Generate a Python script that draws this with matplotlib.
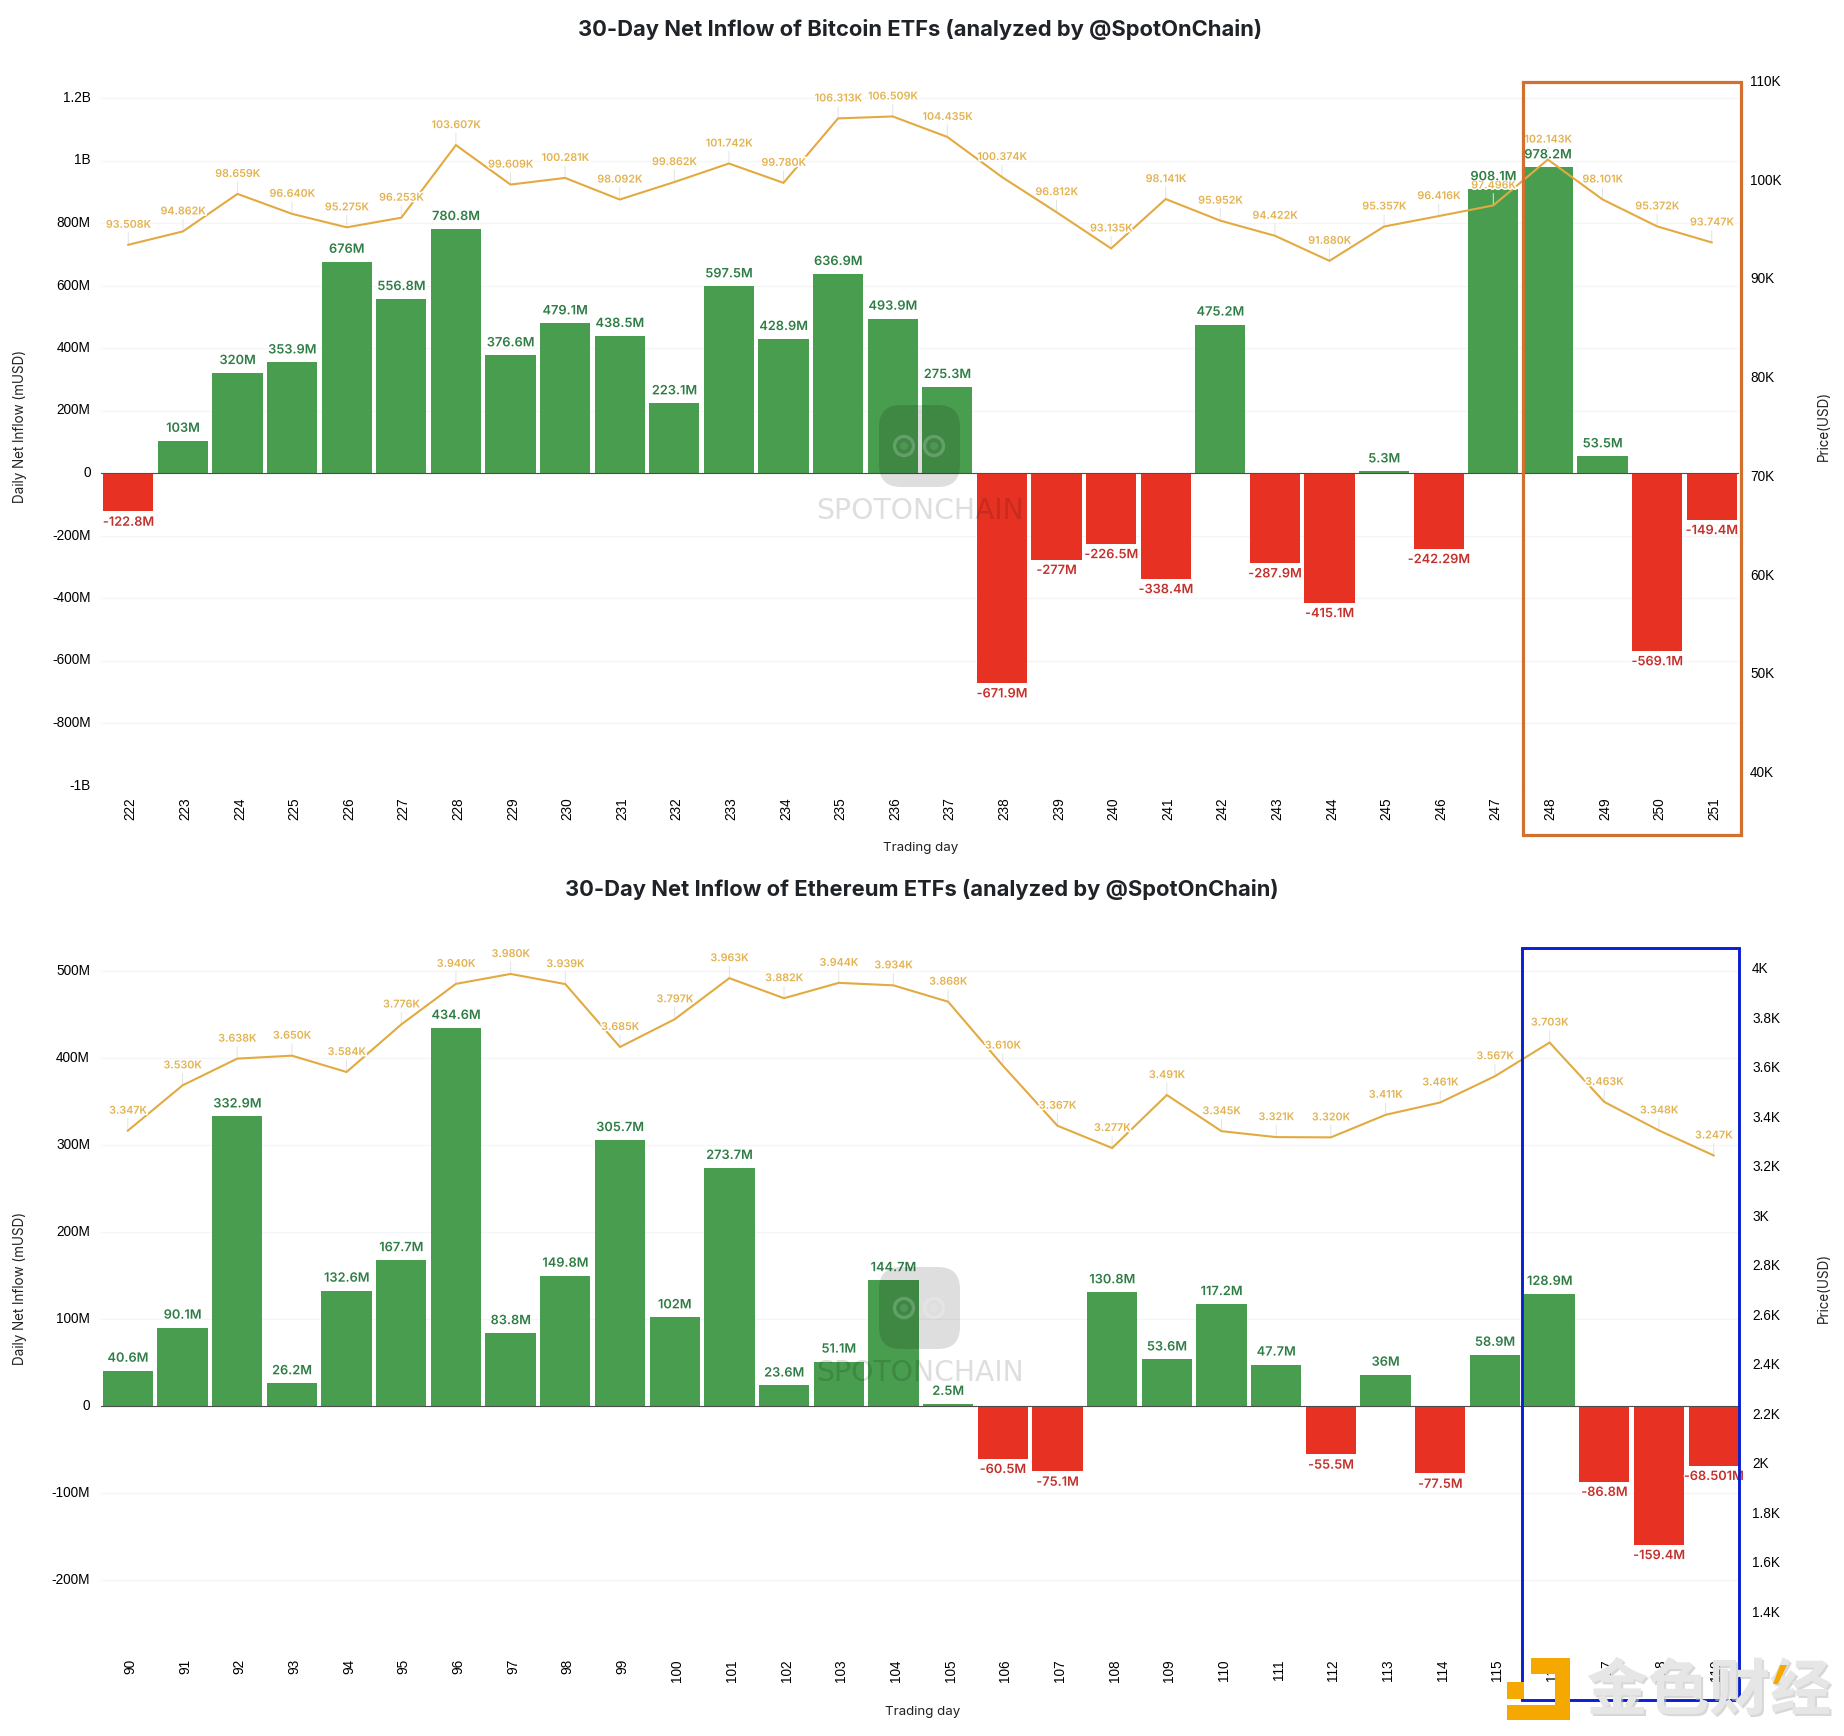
import matplotlib
matplotlib.use("Agg")
import matplotlib.pyplot as plt
import matplotlib.patheffects as pe
from matplotlib.patches import Rectangle, FancyBboxPatch, Ellipse, Polygon
from matplotlib.transforms import Affine2D

W, H = 1844, 1736

btc_days = list(range(222, 252))
btc_flow = [-122.8, 103, 320, 353.9, 676, 556.8, 780.8, 376.6, 479.1, 438.5, 223.1, 597.5, 428.9, 636.9, 493.9,
            275.3, -671.9, -277, -226.5, -338.4, 475.2, -287.9, -415.1, 5.3, -242.29, 908.1, 978.2, 53.5, -569.1, -149.4]
btc_price = [93.508, 94.862, 98.659, 96.640, 95.275, 96.253, 103.607, 99.609, 100.281, 98.092, 99.862, 101.742,
             99.780, 106.313, 106.509, 104.435, 100.374, 96.812, 93.135, 98.141, 95.952, 94.422, 91.880, 95.357,
             96.416, 97.496, 102.143, 98.101, 95.372, 93.747]
btc_left_ticks = [-1000, -800, -600, -400, -200, 0, 200, 400, 600, 800, 1000, 1200]
btc_left_labels = ['-1B', '-800M', '-600M', '-400M', '-200M', '0', '200M', '400M', '600M', '800M', '1B', '1.2B']
btc_right_ticks = [40, 50, 60, 70, 80, 90, 100, 110]
btc_right_labels = ['40K', '50K', '60K', '70K', '80K', '90K', '100K', '110K']

eth_days = list(range(90, 120))
eth_flow = [40.6, 90.1, 332.9, 26.2, 132.6, 167.7, 434.6, 83.8, 149.8, 305.7, 102, 273.7, 23.6, 51.1, 144.7, 2.5,
            -60.5, -75.1, 130.8, 53.6, 117.2, 47.7, -55.5, 36, -77.5, 58.9, 128.9, -86.8, -159.4, -68.501]
eth_price = [3.347, 3.530, 3.638, 3.650, 3.584, 3.776, 3.940, 3.980, 3.939, 3.685, 3.797, 3.963, 3.882, 3.944, 3.934,
             3.868, 3.610, 3.367, 3.277, 3.491, 3.345, 3.321, 3.320, 3.411, 3.461, 3.567, 3.703, 3.463, 3.348, 3.247]
eth_left_ticks = [-200, -100, 0, 100, 200, 300, 400, 500]
eth_left_labels = ['-200M', '-100M', '0', '100M', '200M', '300M', '400M', '500M']
eth_right_ticks = [1.4, 1.6, 1.8, 2.0, 2.2, 2.4, 2.6, 2.8, 3.0, 3.2, 3.4, 3.6, 3.8, 4.0]
eth_right_labels = ['1.4K', '1.6K', '1.8K', '2K', '2.2K', '2.4K', '2.6K', '2.8K', '3K', '3.2K', '3.4K', '3.6K', '3.8K', '4K']

GREEN, RED = '#489d4f', '#e73223'
GREEN_T, RED_T = '#2f7d45', '#c4302b'
GOLD, GOLD_T = '#e2aa40', '#e3b24f'
SANS = ['Inter', 'DejaVu Sans']
TICK = ['Liberation Sans', 'DejaVu Sans']

px = Affine2D().scale(1, -1).translate(0, H)
fig = plt.figure(figsize=(W / 100, H / 100), dpi=100, facecolor='white')


def panel(days, flow, price, lt, ll, rt, rl, title, box, left, right, top, bottom,
          zero_px, per_unit, p0_px, p0, p_per_unit, title_xy, ylab_y, xlab_xy, box_color, box_lw):
    ax = fig.add_axes([left / W, 1 - bottom / H, (right - left) / W, (bottom - top) / H])
    xs = list(range(len(days)))
    ax.set_xlim(-0.5, len(days) - 0.5)
    ax.set_ylim((zero_px - bottom) / per_unit, (zero_px - top) / per_unit)
    ax.bar(xs, flow, width=0.92, color=[GREEN if v >= 0 else RED for v in flow], zorder=2)
    ax.axhline(0, color='#4d4d4d', lw=0.8, zorder=3)
    for s in ax.spines.values():
        s.set_visible(False)
    ax.set_yticks(lt, ll, fontfamily=TICK, fontsize=9.8, color='black', va='center')
    ax.set_xticks(xs, [str(d) for d in days], rotation=90, fontfamily=TICK, fontsize=9.8, color='black')
    ax.tick_params(axis='both', length=0)
    ax.tick_params(axis='y', pad=7.5)
    ax.tick_params(axis='x', pad=8)
    for t in ax.get_xticklabels():
        t.set_transform(t.get_transform() + Affine2D().translate(2.5, 0))
    ax.grid(axis='y', color='#f5f5f5', lw=1, zorder=0)
    ax.set_axisbelow(True)
    ax.set_ylabel('Daily Net Inflow (mUSD)', fontfamily=SANS, fontsize=9.7, color='#222222', va='center')
    ax.yaxis.set_label_coords(20 / W, 1 - ylab_y / H, transform=fig.transFigure)
    ax.set_xlabel('Trading day', fontfamily=SANS, fontsize=9.6, color='#222222', va='center')
    ax.xaxis.set_label_coords(xlab_xy[0] / W, 1 - xlab_xy[1] / H, transform=fig.transFigure)

    ax2 = ax.twinx()
    ax2.set_ylim(p0 + (p0_px - bottom) / p_per_unit, p0 + (p0_px - top) / p_per_unit)
    ax2.plot(xs, price, color=GOLD, lw=1.5, zorder=3, solid_joinstyle='miter')
    for s in ax2.spines.values():
        s.set_visible(False)
    ax2.set_yticks(rt, rl, fontfamily=TICK, fontsize=9.8, color='black', va='center')
    ax2.tick_params(axis='y', length=0, pad=8)
    ax2.set_ylabel('Price(USD)', fontfamily=SANS, fontsize=9.7, color='#222222', rotation=90, va='center')
    ax2.yaxis.set_label_coords(1824 / W, 1 - ylab_y / H, transform=fig.transFigure)

    for x, p in zip(xs, price):
        ax2.annotate('', xy=(x, p), xytext=(0, 8.6), textcoords='offset points',
                     arrowprops=dict(arrowstyle='-', color='#e4e4e4', lw=0.7, shrinkA=0, shrinkB=0), zorder=2)
        ax2.annotate(f'{p:.3f}K', xy=(x, p), xytext=(0, 14.4), textcoords='offset points', ha='center', va='center',
                     fontfamily=SANS, fontsize=7.7, fontweight='semibold', color=GOLD_T, zorder=5,
                     path_effects=[pe.withStroke(linewidth=2.2, foreground='white')])
    for x, v in zip(xs, flow):
        dy = 8.6 if v >= 0 else -8.2
        ax2.annotate(f'{v:g}M', xy=(x, v), xycoords=ax.transData, xytext=(0, dy), textcoords='offset points',
                     ha='center', va='center', fontfamily=SANS, fontsize=9.2, fontweight='semibold',
                     color=GREEN_T if v >= 0 else RED_T, zorder=6,
                     path_effects=[pe.withStroke(linewidth=1.5, foreground='white')])

    fig.text(title_xy[0] / W, 1 - title_xy[1] / H, title, ha='center', va='center', fontfamily=SANS,
             fontsize=15.8, fontweight='bold', color='#1f2328')
    fig.add_artist(Rectangle((box[0], box[1]), box[2] - box[0], box[3] - box[1], transform=px, fill=False,
                             edgecolor=box_color, lw=box_lw, zorder=20))


panel(btc_days, btc_flow, btc_price, btc_left_ticks, btc_left_labels, btc_right_ticks, btc_right_labels,
      '30-Day Net Inflow of Bitcoin ETFs (analyzed by @SpotOnChain)', (1523, 82, 1741, 835),
      101, 1739, 70, 786, 473, 0.3125, 82, 110, 9.87, (920, 29), 426, (921, 848), '#d1702f', 2.3)
panel(eth_days, eth_flow, eth_price, eth_left_ticks, eth_left_labels, eth_right_ticks, eth_right_labels,
      '30-Day Net Inflow of Ethereum ETFs (analyzed by @SpotOnChain)', (1522, 948, 1739, 1700),
      100.5, 1741, 940, 1648, 1406, 0.87, 969, 4.0, 247.6, (922, 890), 1288, (923, 1712), '#0a1fd0', 2.1)

# SpotOnChain watermark
for dy in (0, 862):
    fig.add_artist(FancyBboxPatch((889, 415 + dy), 61, 62, boxstyle='round,pad=10,rounding_size=22', transform=px,
                                  facecolor='black', edgecolor='none', alpha=0.13, zorder=10))
    for cx in (904, 934):
        fig.add_artist(Ellipse((cx, 446 + dy), 19, 19, transform=px, fill=False, edgecolor='white', lw=2.4,
                               alpha=0.2, zorder=11))
        fig.add_artist(Ellipse((cx, 446 + dy), 8, 8, transform=px, facecolor='white', edgecolor='none',
                               alpha=0.1, zorder=11))
    fig.text(919.5 / W, 1 - (511 + dy) / H, 'SPOTONCHAIN', ha='center', va='center', fontfamily=['DejaVu Sans'],
             fontsize=20.3, color='black', alpha=0.13, zorder=11)

# Jinse logo
LOGO = '#f5a800'
for x0, y0, x1, y1 in [(1507, 1705, 1570, 1720), (1555, 1658, 1570, 1720), (1531, 1658, 1555, 1674), (1507, 1682, 1524, 1699)]:
    fig.add_artist(Rectangle((x0, y0), x1 - x0, y1 - y0, transform=px, facecolor=LOGO, edgecolor='none', zorder=25))
fig.text(1709 / W, 1 - 1692 / H, '金色财经', ha='center', va='center', fontfamily=['Noto Sans CJK SC', 'DejaVu Sans'],
         fontsize=44, fontweight='bold', color='#e6e6e6', zorder=25,
         path_effects=[pe.withSimplePatchShadow(offset=(1.5, -1.5), shadow_rgbFace='#bdbdbd', alpha=0.6), pe.Normal()])
fig.add_artist(Polygon([(1773, 1684), (1778, 1684), (1787, 1665), (1780, 1665)], transform=px, facecolor=LOGO,
                       edgecolor='none', zorder=26))

fig.savefig('out.png', dpi=100, facecolor='white')
